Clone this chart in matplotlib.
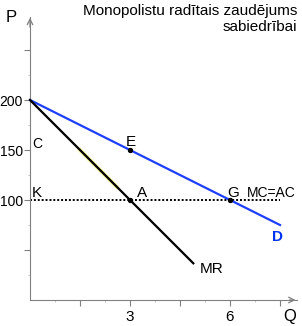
import matplotlib.pyplot as plt

plt.rcParams["font.family"] = ["Liberation Sans", "DejaVu Sans"]

# dati
q_d = [0, 7.5]
p_d = [200, 75]
q_mr = [0, 4.9]
p_mr = [200, 36.7]
q_mc = [0, 7.5]
p_mc = [100, 100]
q_dwl = [1.5, 2.6]
p_dwl = [150, 113.3]

punkti_q = [3, 3, 6]
punkti_p = [150, 100, 100]

y_major = [50, 100, 150, 200, 250]
y_labels = ["", "100", "150", "200", ""]
y_minor = [25, 75, 125, 175, 225]
x_major = [1.5, 3, 4.5, 6, 7.5]
x_labels = ["", "3", "", "6", ""]
x_minor = [0.75, 2.25, 3.75, 5.25, 6.75]

fig = plt.figure(figsize=(3.02, 3.26), dpi=100)
ax = fig.add_axes([0, 0, 1, 1])
ax.set_xlim(-0.9, 8.16)
ax.set_ylim(-26, 300)

gray = "#808080"
fs = 11
for s in ["top", "right"]:
    ax.spines[s].set_visible(False)
ax.spines["left"].set_position(("data", 0))
ax.spines["bottom"].set_position(("data", 0))
ax.spines["left"].set_bounds(0, 283)
ax.spines["bottom"].set_bounds(0, 8.0)
ax.spines["left"].set_color(gray)
ax.spines["bottom"].set_color(gray)

ax.set_yticks(y_major, y_labels, fontsize=10)
ax.set_yticks(y_minor, minor=True)
ax.set_xticks(x_major, x_labels, fontsize=fs)
ax.set_xticks(x_minor, minor=True)
ax.tick_params(which="major", length=4, color=gray, pad=1)
ax.tick_params(which="minor", length=1.5, color="#bbbbbb")
ax.tick_params(axis="x", which="major", pad=3)

# bultas
ax.annotate("", xy=(0, 285), xytext=(0, 270),
            arrowprops=dict(arrowstyle="->", color=gray, lw=0.9))
ax.annotate("", xy=(8.05, 0), xytext=(7.7, 0),
            arrowprops=dict(arrowstyle="->", color=gray, lw=0.9))

ax.plot(q_dwl, p_dwl, color="#f0f060", lw=3, alpha=0.6, zorder=1)
ax.plot(q_mc, p_mc, color="black", lw=1.4, ls=(0, (1, 1)), zorder=2)
ax.plot(q_d, p_d, color="#1f3fff", lw=1.6, zorder=3)
ax.plot(q_mr, p_mr, color="black", lw=1.6, zorder=3)
ax.scatter(punkti_q, punkti_p, s=8, color="black", zorder=4)

ax.text(3.03, 154, "E", fontsize=fs, ha="center")
ax.text(3.2, 103, "A", fontsize=fs)
ax.text(5.92, 103, "G", fontsize=fs)
ax.text(7.98, 103, "MC=AC", fontsize=10, ha="right")
ax.text(0.06, 103, "K", fontsize=fs)
ax.text(0.06, 152, "C", fontsize=fs - 1)
ax.text(5.1, 27, "MR", fontsize=fs)
ax.text(7.26, 59, "D", fontsize=fs, color="#0033ee", fontweight="bold")
ax.text(-0.72, 278, "P", fontsize=fs + 1)
ax.text(7.98, -21, "Q", fontsize=fs + 1, ha="right")
ax.text(8.01, 296, "Monopolistu radītais zaudējums\nsabiedrībai",
        fontsize=fs, ha="right", va="top", linespacing=1.15)

plt.savefig("out.png", dpi=100)
plt.close()
